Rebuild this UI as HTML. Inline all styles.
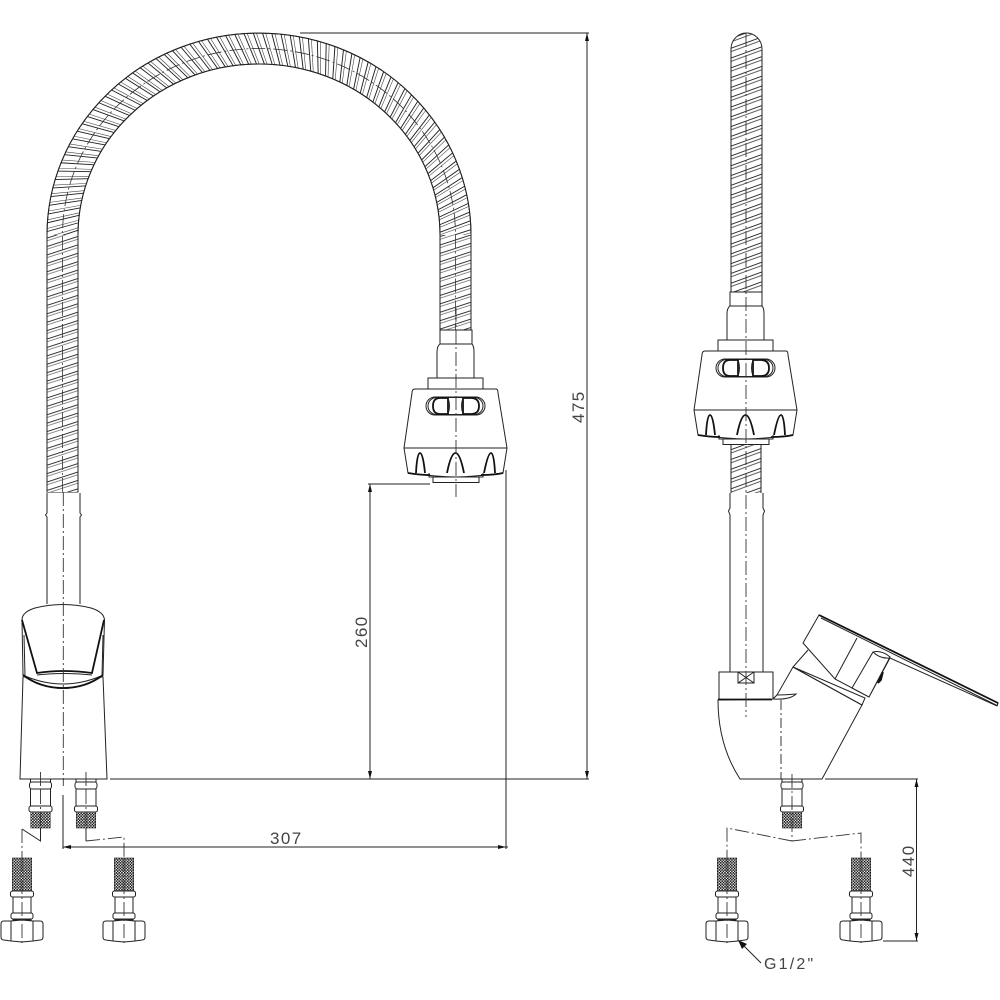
<!DOCTYPE html>
<html>
<head>
<meta charset="utf-8">
<style>
html,body{margin:0;padding:0;background:#fff}
svg{display:block}
text{font-family:"Liberation Sans",sans-serif;font-size:17px;fill:#444;letter-spacing:1.4px}
.l{fill:none;stroke:#222;stroke-width:1}
.t{fill:none;stroke:#111;stroke-width:1.8}
.c{fill:none;stroke:#333;stroke-width:.9;stroke-dasharray:14 3 2 3}
.d{fill:none;stroke:#222;stroke-width:1}
.w{fill:#fff;stroke:#222;stroke-width:1}
</style>
</head>
<body>
<svg width="1000" height="1000" viewBox="0 0 1000 1000" xmlns="http://www.w3.org/2000/svg">
<defs>
<pattern id="mesh" width="2.8" height="2.8" patternUnits="userSpaceOnUse">
<rect width="2.8" height="2.8" fill="#fff"/>
<rect width="1.6" height="1.6" fill="#111"/>
<rect x="1.4" y="1.4" width="1.4" height="1.4" fill="#111"/>
</pattern>
<pattern id="hatch" width="10" height="9.2" patternUnits="userSpaceOnUse" patternTransform="rotate(-20)">
<rect width="10" height="9.2" fill="#fff"/>
<rect y="0.5" width="10" height=".9" fill="#222"/>
<rect y="3.7" width="10" height=".8" fill="#333"/>
</pattern>
<pattern id="hatch2" width="10" height="8" patternUnits="userSpaceOnUse" patternTransform="rotate(-18)">
<rect width="10" height="8" fill="#fff"/>
<rect y="0.5" width="10" height=".9" fill="#222"/>
<rect y="3.3" width="10" height=".6" fill="#444"/>
</pattern>
<g id="p0">
<line x1="213" y1="-6" x2="180" y2="5.300" stroke="#222" stroke-width=".95"/>
<line x1="213" y1="-6" x2="180" y2="5.300" stroke="#444" stroke-width=".6" transform="rotate(.85)"/>
</g>
<g id="p1"><use href="#p0"/><use href="#p0" transform="rotate(2.5)"/></g>
<g id="p2"><use href="#p1"/><use href="#p1" transform="rotate(5)"/></g>
<g id="p3"><use href="#p2"/><use href="#p2" transform="rotate(10)"/></g>
<g id="p4"><use href="#p3"/><use href="#p3" transform="rotate(20)"/></g>
<g id="p5"><use href="#p4"/><use href="#p4" transform="rotate(40)"/></g>
<g id="p6"><use href="#p5"/><use href="#p5" transform="rotate(80)"/></g>
<g id="p7"><use href="#p6"/><use href="#p6" transform="rotate(160)"/></g>
<g id="tail">
<rect class="w" x="-10" y="0" width="20" height="28"/>
<rect class="w" x="-11" y="3" width="22" height="7" rx="2.5"/>
<rect class="w" x="-11.5" y="27" width="23" height="6" rx="2"/>
<rect x="-9.7" y="33" width="19.4" height="16" fill="url(#mesh)" stroke="#222" stroke-width=".6"/>
</g>
<g id="lower">
<rect x="-9.7" y="0" width="19.4" height="33" fill="url(#mesh)" stroke="#222" stroke-width=".6"/>
<rect class="w" x="-9" y="38" width="18" height="24"/>
<rect class="w" x="-11.5" y="33" width="23" height="6" rx="2"/>
<rect class="w" x="-11" y="55" width="22" height="6" rx="2"/>
<path class="w" d="M-11 63H-18Q-21 63-21 66V79Q-21 82-18 82L-11 83L0 84L11 83L18 82Q21 82 21 79V66Q21 63 18 63H11L0 62Z"/>
<path class="l" d="M-11 63V83M11 63V83"/>
</g>
<g id="head">
<path class="w" d="M440 330H472V344H440Z"/>
<path class="w" d="M440 344Q437 346 437 352V378H474V352Q474 346 472 344Z"/>
<rect class="w" x="428" y="378" width="55" height="11"/>
<path class="w" d="M415 389H496Q498 389 498 393L507 448L503 473Q470 477 456 477Q440 477 408 473L404 448L412 393Q412 389 415 389Z"/>
<path class="l" d="M404 448H507"/>
<rect class="w" x="433" y="477" width="46" height="5.5"/>
<path class="l" d="M429 473V477H483V473"/>
<rect class="l" x="426" y="397" width="59" height="18" rx="9"/>
<rect class="l" x="428" y="397.5" width="55" height="17" rx="8.5"/>
<path class="t" d="M448 398H440Q433 398 433 406Q433 414 440 414H448ZM463 398H471Q479 398 479 406Q479 414 471 414H463Z"/>
<path class="l" d="M448 398Q451 406 448 414M463 398Q460 406 463 414"/>
<path class="t" d="M416 473Q417 453 420 453Q423 453 425 473M447 473Q451 453 455.500 453Q460 453 464 473M484 473Q488 453 491 453Q494 453 495 473"/>
<path class="t" d="M408 473Q420 475 430 475M481 475Q495 475 503 473"/>
</g>
<clipPath id="topclip"><path d="M731 300V49A15.500 16 0 0 1 762 49V300Z"/></clipPath>
<clipPath id="arcclip"><path d="M47 235A212 202 0 0 1 471 235H440A181 171 0 0 0 78 235Z"/></clipPath>
</defs>

<!-- Main hose -->
<path class="w" d="M47 492V235A212 202 0 0 1 471 235V330H440V235A181 171 0 0 0 78 235V492Z"/>
<g clip-path="url(#arcclip)">
<g transform="translate(259 235) scale(1 .951) rotate(135)"><use href="#p7"/></g>
</g>
<rect x="47" y="235" width="31" height="257" fill="url(#hatch2)"/>
<rect x="440" y="235" width="31" height="95" fill="url(#hatch2)"/>
<path class="l" d="M47 492V235A212 202 0 0 1 471 235V330M440 330V235A181 171 0 0 0 78 235V492"/>
<path fill="none" stroke="#333" stroke-width=".8" stroke-dasharray="14 3 2 3" d="M62.500 492V235A196.500 186.500 0 0 1 455.500 235V330"/>

<use href="#head"/>

<!-- Left faucet body -->
<path class="l" d="M47 493V513L45.500 515L47 517V604M80 493V513L81.500 515L80 517V604"/>
<path class="w" d="M23 677L20 779H107L103 677Z"/>
<path class="w" d="M22 620Q22 612 35 608Q63 601 91 608Q104 612 104.500 620L103 675Q63 702 23 675Z"/>
<path class="t" d="M22 620L37 673Q63 669 92 673L104 620"/>
<path class="l" d="M37 675Q63 672 92 675"/>
<path class="l" d="M25 676Q63 692 101 676"/>
<path class="t" d="M23 675Q40 688 63 688Q86 688 103 675"/>
<path class="l" d="M24 635L25 676M103 635L102 676"/>

<use href="#tail" x="40.500" y="779"/>
<use href="#tail" x="86" y="779"/>
<use href="#lower" x="22" y="858"/>
<use href="#lower" x="124" y="858"/>

<!-- Right view hose -->
<rect x="731" y="33" width="31" height="260" fill="url(#hatch)" clip-path="url(#topclip)"/>
<path class="l" d="M731 292V49A15.500 16 0 0 1 762 49V292"/>
<rect x="731" y="445" width="30" height="48" fill="url(#hatch)"/>
<path class="l" d="M731 445V493M761 445V493"/>
<use href="#head" transform="translate(290 -38)"/>

<!-- Right view body -->
<path class="l" d="M730 493V508L728.500 511L730 515V672M763 493V508L764.500 511L763 515V672"/>
<path class="w" d="M719 672H773V700H719Z"/>
<rect class="l" x="738" y="672" width="16" height="11"/>
<path class="l" d="M738 672L754 683M754 672L738 683"/>
<path class="w" d="M718 700Q718 745 740 779H822L862 705L793 667L777 695L773 699Z"/>
<path class="t" d="M718 699.500H772"/>
<path class="w" d="M773 699Q790 700 796 694Q786 695 777 695Z"/>
<path class="l" d="M793 667L808 650"/>
<path class="w" d="M803 643L819 615L998 703L997 706L890 658L869 697L835 679Z"/>
<path class="w" d="M793 667L865 698L862 705L793 667"/>
<path class="l" d="M835 679L857 638"/>
<path class="w" d="M852 688L873 652Q882 650 890 657L869 697Z"/>
<path class="l" d="M873 652Q880 659 890 658"/>
<path class="t" d="M819 615L998 703"/>
<path class="l" d="M821 618L997 705.500M997 706L998 703"/>
<path d="M878 683L883 672L881 680Z" fill="#111" stroke="#111" stroke-width="1.6"/>
<path fill="none" stroke="#222" stroke-width=".9" stroke-dasharray="10 3 2 3" d="M781 700V779"/>

<use href="#tail" x="792" y="779"/>
<use href="#lower" x="727" y="858"/>
<use href="#lower" x="861" y="858"/>

<!-- Center lines -->
<path class="c" d="M63.300 492V786"/>
<path class="c" d="M456 308V497"/>
<path class="c" d="M746 33V717"/>
<path class="c" d="M40.500 772V790"/>
<path class="c" d="M40.500 790V828"/>
<path class="c" d="M86 772V790"/>
<path class="c" d="M86 790V828"/>
<path class="c" d="M792 774V841"/>
<path class="c" d="M22 858V946"/>
<path class="c" d="M124 858V946"/>
<path class="c" d="M727 858V946"/>
<path class="c" d="M861 858V946"/>
<path class="l" d="M40.500 828V841L22 829"/>
<path class="c" d="M22 829V858"/>
<path class="l" d="M86 828V841"/>
<path class="c" d="M86 841L124 837V858"/>
<path class="c" d="M792 841L727 828V858"/>
<path class="c" d="M792 841L861 833V858"/>

<!-- Dimensions -->
<path class="d" d="M300 33H589M110 779H589M587 33V779"/>
<path d="M587 33L585 41H589ZM587 779L585 771H589Z" fill="#111"/>
<path class="d" d="M368 484H430M370 484V779"/>
<path d="M370 484L368 492H372ZM370 779L368 771H372Z" fill="#111"/>
<path class="d" d="M506 470V849M63 795V849M63 847H508"/>
<path d="M63 847L71 845V849ZM506 847L498 845V849Z" fill="#111"/>
<path class="d" d="M825 779H918M883 941H918M916.500 779V941"/>
<path d="M916.500 779L914.500 787H918.500ZM916.500 941L914.500 933H918.500Z" fill="#111"/>
<path class="d" d="M739 941L761 963"/>
<path d="M738 940L747 944L742 949Z" fill="#111"/>

<text x="270" y="844">307</text>
<text transform="translate(584 423) rotate(-90)">475</text>
<text transform="translate(367 648) rotate(-90)">260</text>
<text transform="translate(914 877) rotate(-90)">440</text>
<text x="764" y="969" style="font-size:16px;letter-spacing:2.2px">G1/2"</text>
</svg>
</body>
</html>
